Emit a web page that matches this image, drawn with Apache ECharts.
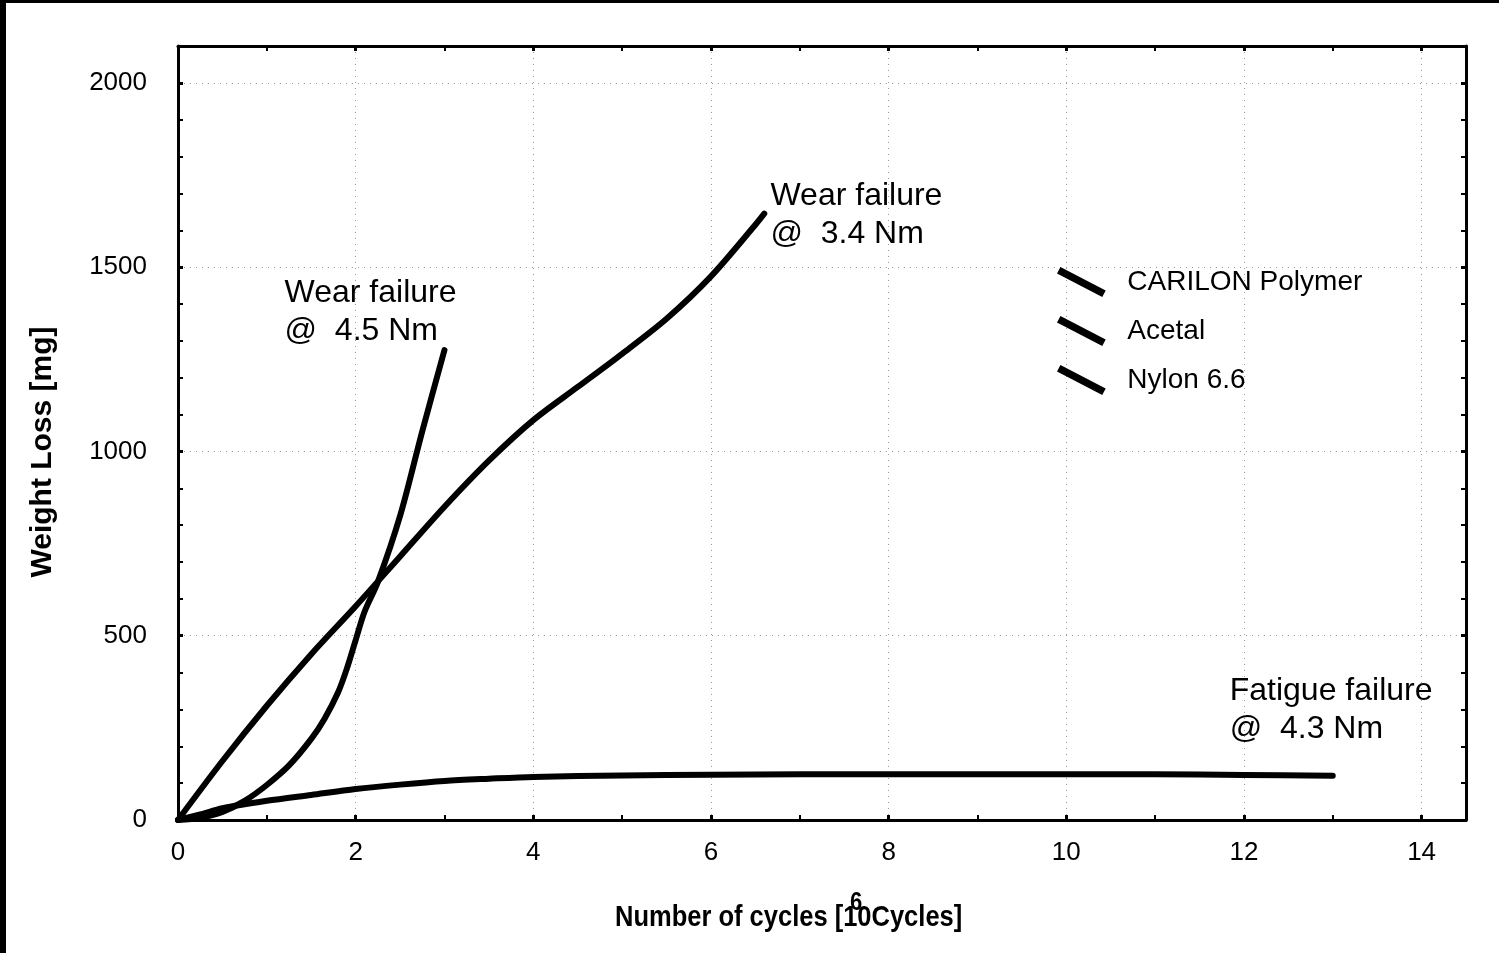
<!DOCTYPE html>
<html>
<head>
<meta charset="utf-8">
<script src="https://cdn.jsdelivr.net/npm/echarts@6/dist/echarts.min.js"></script>
<style>
  html, body { margin: 0; padding: 0; background: #fff; }
  #chart { width: 1499px; height: 953px; }
</style>
</head>
<body>
<div id="chart"></div>
<script>
// Series names (legend order)
const seriesNames = ['CARILON Polymer', 'Acetal', 'Nylon 6.6'];

// Weight loss [mg] against number of cycles [10^6 cycles]
const carilonData = [[0,0],[0.25,15],[0.5,32],[1,52],[1.5,68],[2,84],[2.5,96],[3,106],[3.5,112],[4,117],[5,121],[6,123],[7,124],[8,124],[9,124],[10,124],[11,124],[12,122],[13,120]];
const acetalData  = [[0,0],[0.25,6],[0.5,22],[0.75,52],[1,95],[1.25,148],[1.5,220],[1.65,275],[1.8,345],[1.9,410],[2,488],[2.1,565],[2.25,646],[2.5,825],[2.75,1055],[3,1275]];
const nylonData   = [[0,0],[0.5,160],[1,310],[1.5,450],[2,580],[2.5,715],[3,850],[3.5,975],[4,1085],[4.5,1175],[5,1265],[5.5,1360],[6,1475],[6.5,1615],[6.6,1645]];

// Failure notes: [x, y, text]
const failureNotes = [
  [11.84, 400, 'Fatigue failure\n@  4.3 Nm'],
  [1.2, 1480, 'Wear failure\n@  4.5 Nm'],
  [6.67, 1743, 'Wear failure\n@  3.4 Nm']
];

// Axis ranges and tick steps
const xRange = [0, 14.5], xStep = 2;
const yRange = [0, 2100], yStep = 500;

// Axis titles
const xTitle = 'Number of cycles [10Cycles]';
const xTitleExp = '6';
const yTitle = 'Weight Loss [mg]';

const FONT = '"Liberation Sans", Arial, sans-serif';

// Diagonal stroke used as legend marker
const strokeIcon = 'path://M4,-0.5 L50,23.5 L46.5,30 L0.5,6 Z';

const chart = echarts.init(document.getElementById('chart'), null, { renderer: 'canvas' });

function noteMark(note) {
  return {
    symbol: 'circle',
    symbolSize: 0,
    silent: true,
    data: [{
      coord: [note[0], note[1]],
      label: {
        show: true,
        formatter: note[2],
        position: [0, 0],
        align: 'left',
        verticalAlign: 'top',
        color: '#000',
        fontFamily: FONT,
        fontSize: 32,
        lineHeight: 38
      }
    }]
  };
}

const datasets = [carilonData, acetalData, nylonData];

const axisBase = {
  type: 'value',
  axisLine: { show: true, onZero: false, lineStyle: { color: '#000', width: 3 } },
  axisTick: { show: true, inside: true, length: 5, lineStyle: { color: '#000', width: 3 } },
  minorTick: { show: true, length: 5, lineStyle: { color: '#000', width: 2 } }
};

const plainLabel = v => String(v);

const option = {
  backgroundColor: '#fff',
  animation: false,
  grid: { left: 178, right: 33, top: 46, bottom: 133, containLabel: false },
  legend: {
    data: seriesNames,
    orient: 'vertical',
    left: 1052,
    top: 262,
    icon: strokeIcon,
    itemWidth: 50,
    itemHeight: 30,
    itemGap: 19,
    selectedMode: false,
    itemStyle: { color: '#000', borderWidth: 0 },
    textStyle: { color: '#000', fontFamily: FONT, fontSize: 28, padding: [0, 0, 0, 16] }
  },
  xAxis: [
    Object.assign({}, axisBase, {
      min: xRange[0], max: xRange[1], interval: xStep,
      position: 'bottom',
      minorTick: Object.assign({}, axisBase.minorTick, { splitNumber: 2 }),
      axisLabel: { color: '#000', fontFamily: FONT, fontSize: 26, margin: 20, showMaxLabel: false, formatter: plainLabel },
      splitLine: { show: true, lineStyle: { color: '#999', width: 1, type: [1, 5] } }
    }),
    Object.assign({}, axisBase, {
      min: xRange[0], max: xRange[1], interval: xStep,
      position: 'top',
      minorTick: Object.assign({}, axisBase.minorTick, { splitNumber: 2 }),
      axisLabel: { show: false },
      splitLine: { show: false }
    })
  ],
  yAxis: [
    Object.assign({}, axisBase, {
      min: yRange[0], max: yRange[1], interval: yStep,
      position: 'left',
      minorTick: Object.assign({}, axisBase.minorTick, { splitNumber: 5 }),
      axisLabel: { color: '#000', fontFamily: FONT, fontSize: 26, margin: 31, showMaxLabel: false, formatter: plainLabel },
      splitLine: { show: true, lineStyle: { color: '#999', width: 1, type: [1, 5] } },
      name: yTitle,
      nameLocation: 'middle',
      nameRotate: 90,
      nameGap: 120,
      nameTextStyle: { color: '#000', fontFamily: FONT, fontWeight: 'bold', fontSize: 30, padding: [0, 38, 0, 0] }
    }),
    Object.assign({}, axisBase, {
      min: yRange[0], max: yRange[1], interval: yStep,
      position: 'right',
      minorTick: Object.assign({}, axisBase.minorTick, { splitNumber: 5 }),
      axisLabel: { show: false },
      splitLine: { show: false }
    })
  ],
  series: seriesNames.map((name, i) => ({
    name: name,
    type: 'line',
    xAxisIndex: 0,
    yAxisIndex: 0,
    data: datasets[i],
    smooth: 0.3,
    showSymbol: false,
    symbol: 'none',
    color: '#000',
    lineStyle: { color: '#000', width: 6, cap: 'round', join: 'round' },
    markPoint: noteMark(failureNotes[i]),
    z: 3
  })),
  graphic: [
    // page frame
    { type: 'rect', left: 0, top: 0, shape: { width: 6, height: 953 }, style: { fill: '#000' }, silent: true },
    { type: 'rect', left: 0, top: 0, shape: { width: 1499, height: 3 }, style: { fill: '#000' }, silent: true },
    // x axis title (condensed bold) and unit exponent
    { type: 'text', x: 615, y: 918, scaleX: 0.85, silent: true,
      style: { text: xTitle, fill: '#000', font: 'bold 30px ' + FONT, textVerticalAlign: 'middle' } },
    { type: 'text', x: 850, y: 903, scaleX: 0.85, silent: true,
      style: { text: xTitleExp, fill: '#000', font: 'bold 26px ' + FONT, textVerticalAlign: 'middle' } }
  ]
};

chart.setOption(option);
</script>
</body>
</html>
